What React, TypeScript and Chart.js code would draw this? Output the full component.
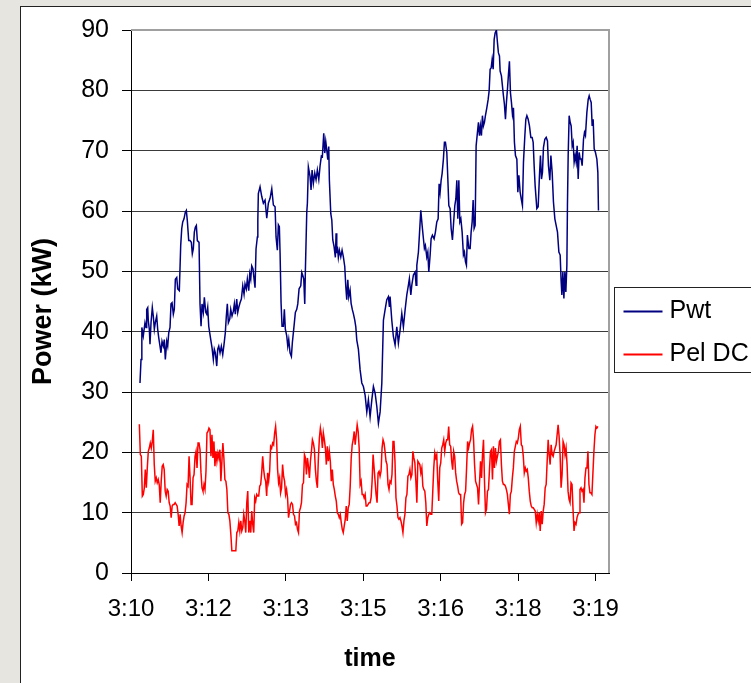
import React, { useEffect, useRef } from "react";
import { Chart, registerables } from "chart.js";

Chart.register(...registerables);

// ---- x axis: minutes after 3:10, labels every 1.5 min ----
const X_TICK_STEP_MIN = 1.5;
const X_AXIS_MAX_MIN = 9.26;
const X_TICK_LABELS = ["3:10", "3:12", "3:13", "3:15", "3:16", "3:18", "3:19"];
const X_TITLE = "time";

// ---- y axis ----
const Y_MIN = 0;
const Y_MAX = 90;
const Y_STEP = 10;
const Y_TITLE = "Power (kW)";

const SERIES_LABELS = ["Pwt", "Pel DC"];
const SERIES_COLORS = ["#000080", "#ff0000"];

// ---- Pwt (kW): sample times in minutes after 3:10 ----
const PWT_TIME = [
  0.174,0.194,0.207,0.213,0.238,0.271,0.291,0.304,0.324,0.335,
  0.355,0.368,0.388,0.413,0.432,0.452,0.471,0.498,0.517,0.537,
  0.562,0.581,0.601,0.626,0.645,0.665,0.692,0.711,0.731,0.756,
  0.775,0.795,0.820,0.839,0.859,0.886,0.905,0.936,0.963,0.983,
  1.002,1.027,1.052,1.072,1.091,1.118,1.143,1.169,1.188,1.207,
  1.227,1.246,1.266,1.285,1.318,1.337,1.357,1.376,1.401,1.421,
  1.448,1.467,1.486,1.506,1.525,1.545,1.570,1.595,1.614,1.634,
  1.661,1.680,1.700,1.725,1.750,1.777,1.802,1.827,1.847,1.866,
  1.886,1.913,1.932,1.957,1.983,2.002,2.021,2.048,2.068,2.087,
  2.112,2.138,2.165,2.190,2.209,2.234,2.254,2.281,2.300,2.320,
  2.339,2.364,2.384,2.403,2.422,2.448,2.457,2.467,2.500,2.533,
  2.564,2.597,2.630,2.661,2.694,2.727,2.758,2.791,2.810,2.835,
  2.855,2.874,2.888,2.907,2.926,2.952,2.971,2.990,3.017,3.037,
  3.056,3.081,3.107,3.126,3.145,3.165,3.184,3.211,3.231,3.256,
  3.289,3.308,3.328,3.347,3.366,3.378,3.405,3.417,3.436,3.469,
  3.488,3.508,3.533,3.560,3.585,3.610,3.638,3.663,3.688,3.707,
  3.734,3.754,3.773,3.793,3.812,3.831,3.843,3.870,3.890,3.909,
  3.934,3.959,3.973,3.986,3.998,4.017,4.037,4.064,4.089,4.114,
  4.141,4.161,4.180,4.200,4.219,4.244,4.264,4.289,4.308,4.335,
  4.355,4.374,4.405,4.438,4.471,4.502,4.535,4.568,4.599,4.632,
  4.665,4.696,4.729,4.762,4.793,4.826,4.859,4.890,4.922,4.955,
  4.986,5.006,5.019,5.052,5.083,5.116,5.149,5.180,5.213,5.246,
  5.277,5.310,5.343,5.374,5.393,5.421,5.440,5.471,5.504,5.523,
  5.537,5.568,5.587,5.614,5.640,5.665,5.684,5.703,5.730,5.750,
  5.769,5.795,5.814,5.839,5.872,5.897,5.924,5.950,5.969,5.988,
  6.008,6.027,6.052,6.072,6.091,6.118,6.138,6.157,6.182,6.202,
  6.227,6.246,6.273,6.293,6.312,6.331,6.351,6.370,6.390,6.415,
  6.440,6.459,6.479,6.498,6.517,6.545,6.570,6.589,6.609,6.628,
  6.647,6.667,6.686,6.711,6.731,6.750,6.769,6.789,6.808,6.827,
  6.847,6.866,6.893,6.919,6.938,6.957,6.977,6.996,7.016,7.035,
  7.054,7.079,7.099,7.118,7.138,7.151,7.176,7.196,7.215,7.234,
  7.254,7.273,7.293,7.312,7.331,7.351,7.370,7.390,7.409,7.428,
  7.448,7.475,7.494,7.514,7.539,7.564,7.583,7.603,7.630,7.649,
  7.669,7.694,7.719,7.746,7.771,7.791,7.810,7.829,7.862,7.888,
  7.913,7.932,7.952,7.971,7.990,8.017,8.043,8.068,8.087,8.114,
  8.134,8.159,8.184,8.211,8.236,8.262,8.289,8.314,8.333,8.347,
  8.366,8.386,8.405,8.424,8.444,8.455,8.469,8.488,8.508,8.527,
  8.547,8.566,8.585,8.605,8.624,8.643,8.663,8.682,8.702,8.721,
  8.740,8.766,8.785,8.804,8.831,8.857,8.876,8.895,8.915,8.934,
  8.953,8.973,8.998,9.025,9.044,9.056,
];

const PWT_KW = [
  31.5,35.4,36.2,40.7,39.3,41.5,40.7,43.7,44.0,41.8,
  40.4,37.9,41.5,44.0,42.6,40.4,41.5,42.6,40.4,39.0,
  37.6,36.5,38.4,37.6,38.7,35.4,38.4,37.6,39.8,40.7,
  44.6,44.8,42.9,43.7,48.7,49.0,47.1,46.8,54.3,57.1,
  58.2,58.7,59.8,60.1,58.4,55.1,55.1,54.8,52.9,53.7,
  56.5,57.3,57.6,55.1,54.8,44.6,40.9,44.6,43.2,45.7,
  43.2,42.9,44.0,40.9,39.8,38.7,37.3,35.4,37.1,36.5,
  34.3,37.1,37.6,36.5,37.6,36.2,37.9,39.8,42.6,44.6,
  41.5,42.1,43.7,42.6,43.4,44.6,42.9,45.4,43.2,44.0,
  44.8,45.4,47.6,46.2,47.9,47.1,48.7,46.8,49.6,48.7,
  50.9,50.4,48.7,47.3,53.7,55.7,58.5,62.9,64.0,62.4,
  61.3,61.8,58.8,61.3,62.1,63.7,61.0,60.7,55.7,53.5,
  57.7,57.4,53.0,44.8,40.9,40.9,43.7,40.4,39.3,37.6,
  38.7,36.5,35.9,38.2,39.8,41.5,43.2,43.7,44.6,47.1,
  47.6,49.8,49.3,48.7,44.6,50.1,59.8,61.3,67.3,65.7,
  63.5,66.8,64.6,66.3,65.2,66.8,65.2,67.5,69.1,69.0,
  72.9,69.6,71.5,70.1,68.5,70.7,65.1,59.6,58.5,55.2,
  54.1,52.3,56.3,53.0,54.1,52.3,53.5,52.4,53.5,52.4,
  50.8,47.5,45.3,48.6,45.8,46.9,44.7,43.6,43.0,41.9,
  40.8,38.6,37.1,33.7,31.5,30.9,29.5,26.7,28.7,25.9,
  28.7,30.9,29.8,27.6,24.8,26.7,31.5,41.9,43.6,45.3,
  45.8,44.1,45.8,41.9,39.2,37.8,40.8,38.1,40.3,43.0,
  40.8,43.6,46.1,47.7,48.8,46.1,47.7,49.4,49.9,47.7,
  51.0,53.2,56.0,60.1,57.6,55.4,53.8,54.3,52.4,53.2,
  49.9,52.7,55.4,56.0,55.4,56.5,58.2,58.7,64.5,63.1,
  65.1,66.2,68.6,71.4,71.4,69.7,65.3,60.9,60.4,57.1,
  55.2,57.6,60.9,62.0,65.1,58.7,65.1,58.2,58.7,56.5,
  52.7,53.2,51.6,51.0,56.0,53.8,53.8,56.5,58.2,61.8,
  57.1,57.6,70.8,73.0,74.7,72.5,74.1,72.5,75.8,74.1,
  74.7,75.8,77.1,78.5,79.9,83.5,83.7,85.1,83.5,88.4,
  89.5,90.0,87.9,86.2,85.7,83.2,82.4,80.7,79.1,77.7,
  75.2,78.0,80.2,82.6,84.8,79.6,78.0,76.0,77.1,71.4,
  69.2,68.6,63.1,65.9,63.1,61.8,60.9,68.1,72.5,75.2,
  75.8,75.2,74.1,72.2,72.2,71.4,67.5,64.2,60.4,60.7,
  65.9,69.2,65.3,66.4,70.5,71.9,72.2,71.6,67.5,65.1,
  69.2,66.4,61.5,58.7,57.6,56.5,53.2,52.7,48.3,46.1,
  49.9,45.5,49.9,46.6,51.0,60.9,69.2,75.8,74.7,74.1,
  70.8,71.4,68.1,69.2,68.1,70.8,65.3,69.7,68.6,68.6,
  67.5,71.9,73.0,72.5,76.3,78.5,79.1,78.5,78.0,74.1,
  75.2,70.3,69.7,68.6,66.4,60.1,
];

// ---- Pel DC (kW): logged on a fixed sample clock ----
const PEL_START_MIN = 0.1615;
const PEL_SAMPLE_MIN = 0.01927;
const PEL_KW = [
  24.67,19.62,19.34,12.75,13.02,14.12,17.14,14.12,17.42,20.16,
  20.71,21.54,20.71,21.81,23.74,17.97,15.22,15.77,14.95,15.49,
  14.67,11.65,15.22,17.69,17.97,17.14,13.57,12.75,13.85,13.57,
  11.65,11.10,9.18,11.10,11.37,11.37,11.65,11.37,11.10,9.73,
  7.80,9.73,7.80,6.70,8.35,9.45,10.0,11.65,14.67,14.40,
  19.34,15.77,11.37,11.37,15.77,16.32,19.34,20.16,17.42,21.54,
  21.54,20.44,16.59,14.12,13.57,14.67,13.85,16.87,23.19,23.46,
  24.01,23.74,19.34,22.91,19.07,21.81,17.69,20.16,18.52,19.89,
  19.07,20.44,15.22,18.52,21.54,19.07,15.49,15.22,13.85,10.0,
  9.73,8.63,6.43,3.68,3.68,3.68,3.68,3.68,6.70,6.98,
  8.35,6.98,8.63,6.98,7.53,9.73,8.63,6.70,11.65,13.57,
  6.70,8.63,6.70,10.27,8.08,6.70,12.47,11.92,13.02,12.75,
  12.75,14.40,14.67,16.59,19.34,17.14,15.77,15.22,12.75,16.59,
  15.22,16.87,20.99,20.71,21.54,21.26,23.19,24.29,22.09,17.14,
  14.95,15.77,13.30,14.12,17.97,16.04,15.22,13.02,13.85,12.47,
  9.18,10.27,11.37,11.65,11.37,9.73,9.45,8.08,8.35,7.25,
  6.70,10.27,10.82,11.65,14.67,14.95,19.62,19.07,16.32,19.07,
  17.69,15.77,18.52,20.16,22.09,21.54,20.44,17.14,15.22,14.12,
  19.07,22.36,24.01,22.91,20.71,23.19,22.09,20.71,17.97,20.99,
  18.52,20.16,18.52,15.22,17.14,14.67,13.85,12.75,11.92,10.0,
  9.73,9.18,9.73,8.35,7.25,6.70,7.80,8.90,11.10,8.63,
  10.82,11.37,14.40,19.07,21.26,22.09,23.46,21.26,22.91,24.56,
  23.46,20.71,14.67,15.22,13.02,13.02,12.47,13.02,11.10,
  11.10,11.37,11.65,11.65,12.47,15.22,19.62,17.42,15.22,13.02,
  11.65,16.59,16.87,16.04,16.87,20.71,22.09,21.54,20.16,18.52,
  17.97,14.67,13.85,15.22,14.95,16.32,21.81,21.81,18.52,12.47,
  11.10,9.18,8.90,9.18,8.63,7.80,6.70,8.63,9.73,12.47,
  13.02,16.04,16.32,17.14,15.77,16.32,20.16,19.07,18.24,15.22,
  11.65,18.52,18.24,17.97,16.59,17.42,14.40,13.85,13.57,11.65,
  7.80,9.18,9.73,10.0,9.73,9.73,13.57,17.42,19.89,19.07,
  19.62,15.22,11.92,17.42,18.24,20.71,21.26,22.09,20.16,21.54,
  22.09,22.09,24.29,21.26,20.99,18.52,17.14,20.16,19.34,16.59,
  15.22,14.40,13.30,13.02,13.02,8.08,8.35,11.65,13.02,13.57,
  17.42,21.81,20.71,21.54,22.09,23.74,24.29,22.09,17.97,15.22,
  14.67,14.12,11.37,14.95,18.52,15.77,19.62,22.09,15.22,10.0,
  10.55,13.57,13.85,17.14,20.16,20.44,15.49,20.99,17.42,20.71,
  18.52,19.34,20.16,21.81,22.09,17.97,15.22,14.67,14.67,14.40,
  13.85,13.02,11.37,9.73,13.02,13.57,15.77,17.42,20.16,20.99,
  21.81,21.54,22.36,23.74,24.29,21.26,20.99,19.34,16.59,17.42,
  16.87,17.14,15.77,13.57,11.92,11.10,10.82,10.82,10.55,10.27,
  8.35,9.73,8.63,10.0,6.98,10.27,8.08,10.27,11.37,14.12,
  14.67,18.52,22.09,19.62,17.97,21.26,19.62,19.34,20.16,20.71,
  21.26,22.91,24.56,22.64,19.62,14.12,16.32,21.81,21.26,19.62,
  20.71,17.97,13.57,12.20,11.65,14.95,14.67,10.55,6.98,8.35,
  8.08,9.18,9.73,10.0,13.85,14.12,13.57,13.85,11.65,15.77,
  17.42,17.42,20.16,14.67,13.30,13.30,13.02,16.59,20.16,22.91,
  24.29,24.01,24.29,
];

const FONT_FAMILY = "'Liberation Sans', Arial, Helvetica, sans-serif";

const excelLegend = {
  id: "excelLegend",
  afterDraw(chart: any) {
    const { ctx, chartArea } = chart;
    const left = chartArea.right + 5.5;
    const top = chartArea.top + 257.5;
    const rowH = 43;
    ctx.save();
    ctx.fillStyle = "#ffffff";
    ctx.strokeStyle = "#222222";
    ctx.lineWidth = 1;
    ctx.fillRect(left, top, 200, 85);
    ctx.strokeRect(left, top, 200, 85);
    ctx.font = `25px ${FONT_FAMILY}`;
    ctx.textBaseline = "middle";
    ctx.textAlign = "left";
    chart.data.datasets.forEach((ds: any, i: number) => {
      const y = top + 24 + i * rowH;
      ctx.strokeStyle = ds.borderColor;
      ctx.lineWidth = 2;
      ctx.beginPath();
      ctx.moveTo(left + 9, y);
      ctx.lineTo(left + 48, y);
      ctx.stroke();
      ctx.fillStyle = "#000000";
      ctx.fillText(ds.label, left + 55, y);
    });
    ctx.restore();
  },
};

const yAxisTitle = {
  id: "yAxisTitle",
  afterDraw(chart: any) {
    const { ctx, chartArea } = chart;
    ctx.save();
    ctx.translate(44, (chartArea.top + chartArea.bottom) / 2 + 10);
    ctx.rotate(-Math.PI / 2);
    ctx.font = `bold 27px ${FONT_FAMILY}`;
    ctx.fillStyle = "#000000";
    ctx.textAlign = "center";
    ctx.textBaseline = "middle";
    ctx.fillText(Y_TITLE, 0, 0);
    ctx.restore();
  },
};

const plotBorder = {
  id: "plotBorder",
  beforeDatasetsDraw(chart: any) {
    const { ctx, chartArea } = chart;
    ctx.save();
    ctx.strokeStyle = "#a0a0a0";
    ctx.lineWidth = 2;
    ctx.beginPath();
    ctx.moveTo(chartArea.left, chartArea.top);
    ctx.lineTo(chartArea.right, chartArea.top);
    ctx.lineTo(chartArea.right, chartArea.bottom);
    ctx.stroke();
    ctx.restore();
  },
};

export default function App() {
  const canvasRef = useRef<HTMLCanvasElement | null>(null);

  useEffect(() => {
    if (!canvasRef.current) return;
    const pwt = PWT_TIME.map((t, i) => ({ x: t, y: PWT_KW[i] }));
    const pel = PEL_KW.map((v, i) => ({ x: PEL_START_MIN + i * PEL_SAMPLE_MIN, y: v }));

    const chart = new Chart(canvasRef.current, {
      type: "line",
      data: {
        datasets: [
          {
            label: SERIES_LABELS[0],
            data: pwt,
            borderColor: SERIES_COLORS[0],
            backgroundColor: SERIES_COLORS[0],
            borderWidth: 1.5,
            pointRadius: 0,
            tension: 0,
          },
          {
            label: SERIES_LABELS[1],
            data: pel,
            borderColor: SERIES_COLORS[1],
            backgroundColor: SERIES_COLORS[1],
            borderWidth: 1.5,
            pointRadius: 0,
            tension: 0,
          },
        ],
      },
      options: {
        animation: false,
        responsive: false,
        maintainAspectRatio: false,
        layout: { padding: { left: 0, right: 142, top: 30, bottom: 0 } },
        plugins: {
          legend: { display: false },
          tooltip: { enabled: false },
        },
        scales: {
          x: {
            type: "linear",
            min: 0,
            max: X_AXIS_MAX_MIN,
            afterBuildTicks: (scale: any) => {
              scale.ticks = X_TICK_LABELS.map((_, i) => ({ value: i * X_TICK_STEP_MIN }));
            },
            afterFit: (scale: any) => {
              scale.height = 110;
            },
            ticks: {
              autoSkip: false,
              maxRotation: 0,
              minRotation: 0,
              padding: 14,
              color: "#000",
              font: { family: FONT_FAMILY, size: 24 },
              callback: (value: any) => X_TICK_LABELS[Math.round(Number(value) / X_TICK_STEP_MIN)] ?? "",
            },
            grid: {
              display: true,
              drawOnChartArea: false,
              drawTicks: true,
              tickLength: 8,
              color: "#000",
              tickColor: "#000",
            },
            border: { display: true, color: "#000", width: 1 },
            title: {
              display: true,
              text: X_TITLE,
              color: "#000",
              font: { family: FONT_FAMILY, size: 25, weight: "bold" },
              padding: { top: 0, bottom: 9 },
            },
          },
          y: {
            min: Y_MIN,
            max: Y_MAX,
            afterFit: (scale: any) => {
              scale.width = 131;
            },
            ticks: {
              stepSize: Y_STEP,
              padding: 13,
              color: "#000",
              font: { family: FONT_FAMILY, size: 25 },
            },
            grid: {
              color: (c: any) => (c.tick && c.tick.value === Y_MAX ? "#a0a0a0" : "#3a3a3a"),
              lineWidth: 1,
              tickLength: 9,
              tickColor: "#000",
            },
            border: { display: true, color: "#000", width: 1 },
            title: { display: false },
          },
        },
      },
      plugins: [plotBorder, yAxisTitle, excelLegend],
    });
    return () => chart.destroy();
  }, []);

  return (
    <div
      style={{
        position: "fixed",
        left: 0,
        top: 0,
        width: 751,
        height: 683,
        overflow: "hidden",
        background: "#e7e5df",
      }}
    >
      <div
        style={{
          position: "absolute",
          left: 20,
          top: 6,
          width: 780,
          height: 720,
          background: "#ffffff",
          border: "1px solid #222",
        }}
      />
      <canvas
        ref={canvasRef}
        width={751}
        height={683}
        style={{ position: "absolute", left: 0, top: 0, width: 751, height: 683 }}
      />
    </div>
  );
}
